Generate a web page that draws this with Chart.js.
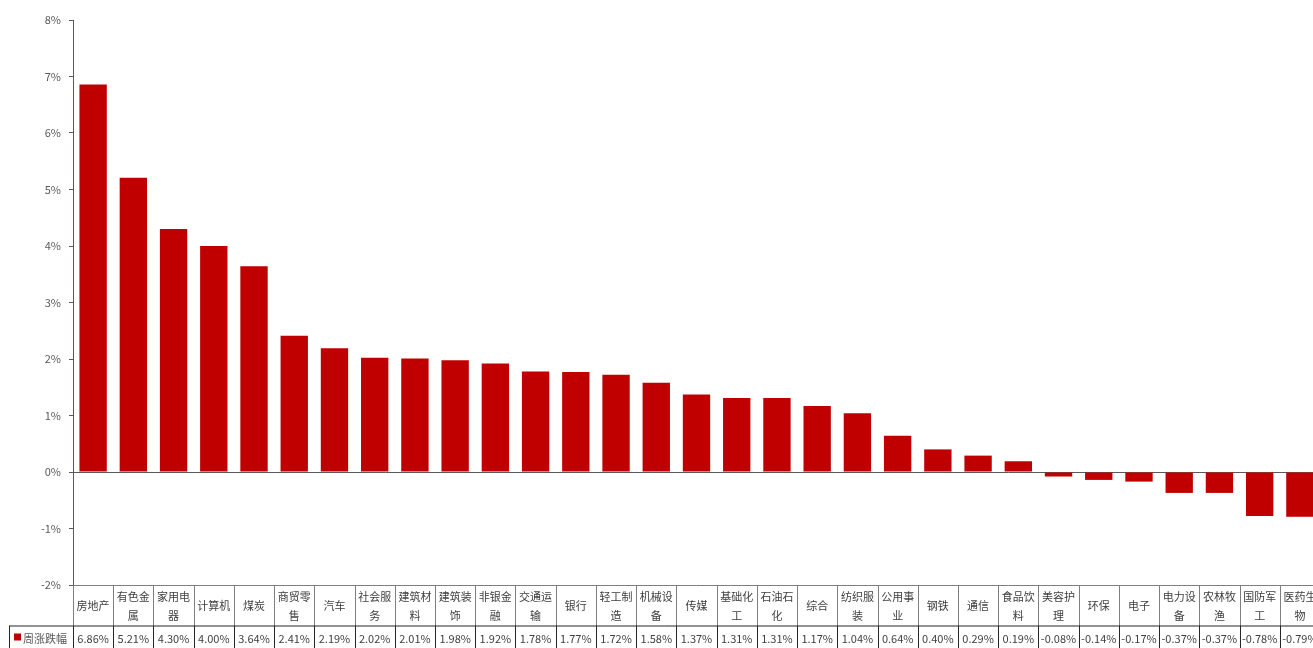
<!DOCTYPE html>
<html>
<head>
<meta charset="utf-8">
<script src="https://cdn.jsdelivr.net/npm/chart.js@4.4.0/dist/chart.umd.min.js"></script>
<style>
    html, body { margin: 0; padding: 0; background: #fff; overflow: hidden; }
    #wrap { width: 1322px; height: 648px; }
</style>
</head>
<body>
<div id="wrap"><canvas id="chart" width="1322" height="648"></canvas></div>
<script>
const categories = ['房地产', '有色金属', '家用电器', '计算机', '煤炭', '商贸零售', '汽车', '社会服务', '建筑材料', '建筑装饰',
    '非银金融', '交通运输', '银行', '轻工制造', '机械设备', '传媒', '基础化工', '石油石化', '综合', '纺织服装',
    '公用事业', '钢铁', '通信', '食品饮料', '美容护理', '环保', '电子', '电力设备', '农林牧渔', '国防军工', '医药生物'];
const weeklyChange = [6.86, 5.21, 4.30, 4.00, 3.64, 2.41, 2.19, 2.02, 2.01, 1.98,
    1.92, 1.78, 1.77, 1.72, 1.58, 1.37, 1.31, 1.31, 1.17, 1.04,
    0.64, 0.40, 0.29, 0.19, -0.08, -0.14, -0.17, -0.37, -0.37, -0.78, -0.79];
const seriesName = '周涨跌幅';
const yTicks = [-2, -1, 0, 1, 2, 3, 4, 5, 6, 7, 8];

const barColor = '#c00000';
const fontFamily = '"Noto Sans CJK SC", "Noto Sans", sans-serif';

// draws the data table under the plot, like the excel chart
const dataTable = {
    id: 'dataTable',
    afterDraw(chart) {
        const ctx = chart.ctx;
        const area = chart.chartArea;
        const x = chart.scales.x;
        const top = area.bottom;
        const mid = top + 40.5;
        const bottom = chart.height + 2;
        const half = (x.getPixelForValue(1) - x.getPixelForValue(0)) / 2;

        ctx.save();
        ctx.lineWidth = 1;

        // category row
        ctx.strokeStyle = '#7f7f7f';
        ctx.beginPath();
        ctx.moveTo(area.left, Math.round(top) + 0.5);
        ctx.lineTo(area.right, Math.round(top) + 0.5);
        for (let i = 0; i <= categories.length; i++) {
            const px = Math.round(x.getPixelForValue(i) - half) + 0.5;
            ctx.moveTo(px, top);
            ctx.lineTo(px, mid);
        }
        ctx.stroke();

        // value row
        ctx.strokeStyle = '#262626';
        ctx.beginPath();
        ctx.moveTo(9.5, mid + 0.5);
        ctx.lineTo(area.right, mid + 0.5);
        ctx.moveTo(9.5, mid);
        ctx.lineTo(9.5, bottom);
        for (let i = 0; i <= categories.length; i++) {
            const px = Math.round(x.getPixelForValue(i) - half) + 0.5;
            ctx.moveTo(px, mid);
            ctx.lineTo(px, bottom);
        }
        ctx.stroke();

        ctx.font = '11px ' + fontFamily;
        ctx.textAlign = 'center';
        ctx.textBaseline = 'middle';
        categories.forEach((name, i) => {
            const cx = x.getPixelForValue(i);
            ctx.fillStyle = '#404040';
            if (name.length > 3) {
                ctx.fillText(name.slice(0, 3), cx, top + 12);
                ctx.fillText(name.slice(3), cx, top + 31);
            } else {
                ctx.fillText(name, cx, top + 21);
            }
            ctx.fillText(weeklyChange[i].toFixed(2) + '%', cx, mid + 13);
        });

        // legend key
        ctx.fillStyle = barColor;
        ctx.fillRect(14, mid + 8, 7, 7);
        ctx.fillStyle = '#595959';
        ctx.textAlign = 'left';
        ctx.fillText(seriesName, 23, mid + 13);
        ctx.restore();
    }
};

new Chart(document.getElementById('chart'), {
    type: 'bar',
    data: {
        labels: categories,
        datasets: [{
            label: seriesName,
            data: weeklyChange,
            backgroundColor: barColor,
            borderWidth: 0,
            barPercentage: 0.68,
            categoryPercentage: 1
        }]
    },
    options: {
        responsive: false,
        animation: false,
        devicePixelRatio: 1,
        layout: { padding: { top: 20, bottom: 63, left: 0, right: 2 } },
        plugins: {
            legend: { display: false },
            tooltip: { enabled: false }
        },
        scales: {
            x: {
                display: false
            },
            y: {
                min: yTicks[0],
                max: yTicks[yTicks.length - 1],
                afterFit(scale) { scale.width = 73; },
                afterBuildTicks(scale) { scale.ticks = yTicks.map(v => ({ value: v })); },
                border: { display: true, color: '#595959', width: 1 },
                grid: {
                    color: c => (c.tick && c.tick.value === 0) ? '#595959' : 'rgba(0,0,0,0)',
                    tickColor: '#595959',
                    tickLength: 4,
                    drawOnChartArea: true
                },
                ticks: {
                    padding: 8,
                    color: '#595959',
                    font: { family: fontFamily, size: 11 },
                    callback: v => v + '%'
                }
            }
        }
    },
    plugins: [dataTable]
});
</script>
</body>
</html>
